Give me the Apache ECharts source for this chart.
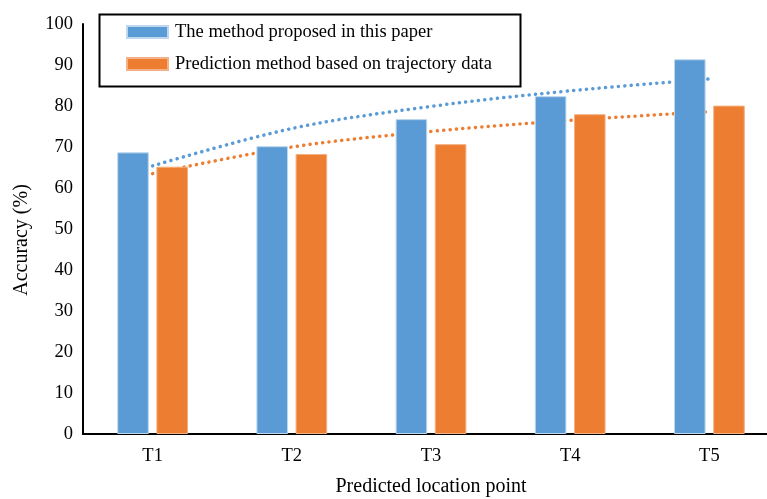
<!DOCTYPE html>
<html>
<head>
<meta charset="utf-8">
<script src="https://cdn.jsdelivr.net/npm/echarts@6/dist/echarts.min.js"></script>
<style>html,body{margin:0;padding:0;background:#fff;}#chart{width:767px;height:499px;}</style>
</head>
<body>
<div id="chart"></div>
<script>
const categories = ['T1', 'T2', 'T3', 'T4', 'T5'];
const seriesNames = ['The method proposed in this paper', 'Prediction method based on trajectory data'];
const proposedValues = [68.7, 70.2, 76.8, 82.4, 91.4];
const trajectoryValues = [65.2, 68.3, 70.7, 78.0, 80.1];
// logarithmic trendlines at each category
const proposedTrend = [65.4, 74.5, 79.9, 83.7, 86.6];
const trajectoryTrend = [63.5, 70.0, 73.8, 76.5, 78.6];
const yTicks = [0, 10, 20, 30, 40, 50, 60, 70, 80, 90, 100];

const FONT = '"Liberation Serif", "Times New Roman", serif';
const BLUE = '#5B9BD5';
const ORANGE = '#ED7D31';

const chart = echarts.init(document.getElementById('chart'), null, {renderer: 'canvas'});
chart.setOption({
  animation: false,
  textStyle: {fontFamily: FONT},
  grid: {left: 83, top: 24, right: -12, bottom: 65, containLabel: false, outerBoundsMode: 'none'},
  legend: {
    orient: 'vertical',
    left: 126, top: 22,
    padding: 0,
    icon: 'rect',
    itemWidth: 41, itemHeight: 12,
    itemGap: 12,
    data: seriesNames,
    textStyle: {fontFamily: FONT, fontSize: 18.5, color: '#000', lineHeight: 20, padding: [0, 0, 0, 2]}
  },
  xAxis: {
    type: 'category',
    data: categories,
    name: 'Predicted location point',
    nameLocation: 'middle',
    nameGap: 43,
    nameTextStyle: {fontFamily: FONT, fontSize: 20, color: '#000'},
    axisLine: {lineStyle: {color: '#000', width: 2}},
    axisTick: {show: false},
    axisLabel: {fontFamily: FONT, fontSize: 18.5, color: '#000', margin: 13}
  },
  yAxis: {
    type: 'value',
    min: yTicks[0], max: yTicks[yTicks.length - 1], interval: 10,
    axisLine: {show: true, lineStyle: {color: '#000', width: 2}},
    axisTick: {show: false},
    splitLine: {show: false},
    axisLabel: {fontFamily: FONT, fontSize: 18.5, color: '#000', margin: 10}
  },
  graphic: [
    {type: 'rect', left: 97, top: 12, z: 100, shape: {width: 421, height: 72},
     style: {fill: 'none', stroke: '#000', lineWidth: 2}},
    {type: 'text', x: 22, y: 240, rotation: Math.PI / 2, z: 100,
     style: {text: 'Accuracy (%)', font: '20px ' + FONT, fill: '#000', textAlign: 'center', textVerticalAlign: 'middle'}}
  ],
  series: [
    {
      name: seriesNames[0], type: 'bar', data: proposedValues, z: 3,
      barWidth: '22.7%', barGap: '24%',
      itemStyle: {color: BLUE, borderColor: '#BDD7EE', borderWidth: 1}
    },
    {
      name: seriesNames[1], type: 'bar', data: trajectoryValues, z: 3,
      barWidth: '22.7%', barGap: '24%',
      itemStyle: {color: ORANGE, borderColor: '#F4B183', borderWidth: 1}
    },
    {
      type: 'line', data: proposedTrend, smooth: 0.35, symbol: 'none', z: 1, silent: true,
      lineStyle: {color: BLUE, width: 3.5, type: [0.1, 6.3], cap: 'round'}
    },
    {
      type: 'line', data: trajectoryTrend, smooth: 0.35, symbol: 'none', z: 1, silent: true,
      lineStyle: {color: ORANGE, width: 3.5, type: [0.1, 6.3], cap: 'round'}
    }
  ]
});
</script>
</body>
</html>
